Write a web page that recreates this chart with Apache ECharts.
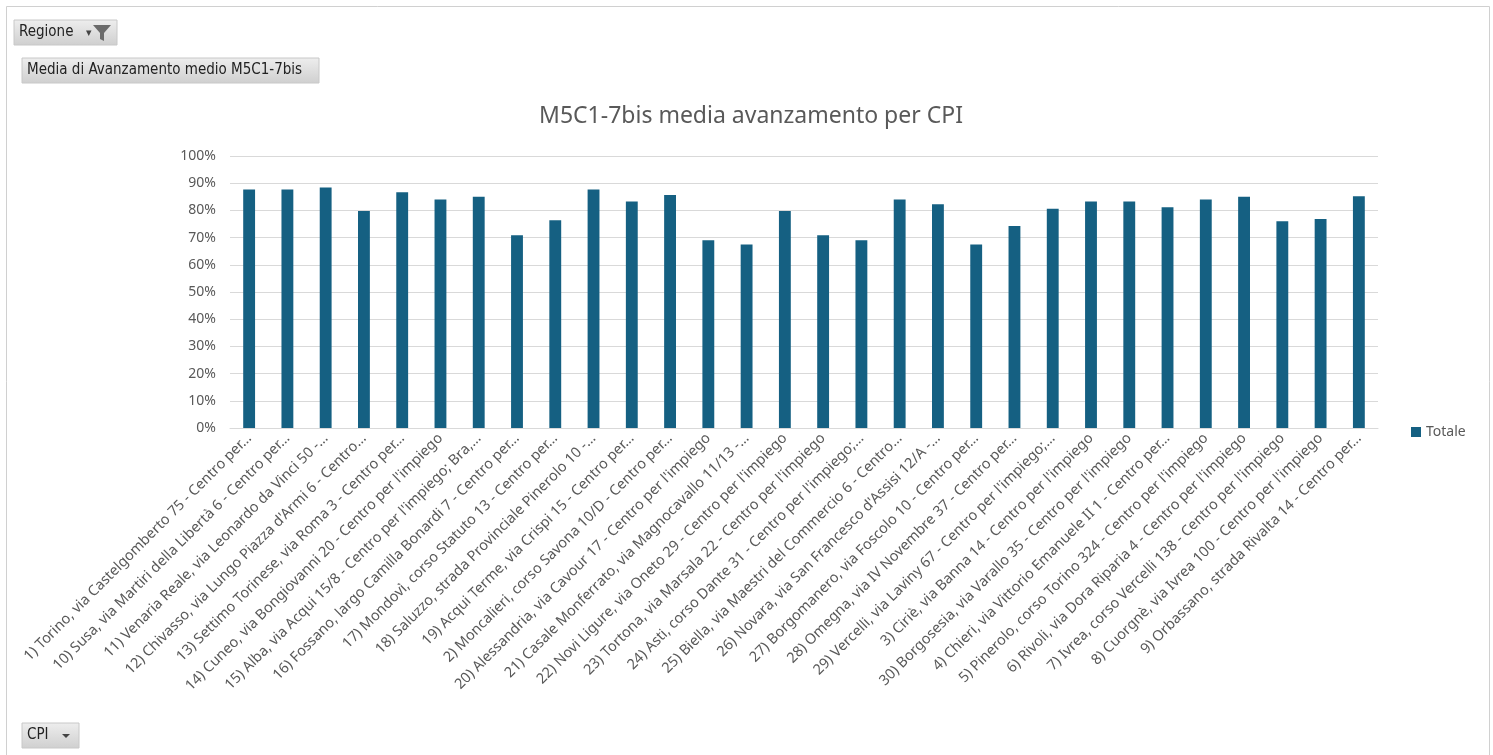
<!DOCTYPE html>
<html>
<head>
<meta charset="utf-8">
<script src="https://cdn.jsdelivr.net/npm/echarts@6/dist/echarts.min.js"></script>
<style>
html,body{margin:0;padding:0;background:#fff;}
#chart{width:1493px;height:755px;}
</style>
</head>
<body>
<div id="chart"></div>
<script>
const categories = [
  "1) Torino, via Castelgomberto 75 - Centro per…",
  "10) Susa, via Martiri della Libertà 6 - Centro per…",
  "11) Venaria Reale, via Leonardo da Vinci 50 -…",
  "12) Chivasso, via Lungo Piazza d'Armi 6 - Centro…",
  "13) Settimo Torinese, via Roma 3 - Centro per…",
  "14) Cuneo, via Bongiovanni 20 - Centro per l'impiego",
  "15) Alba, via Acqui 15/8 - Centro per l'impiego; Bra,…",
  "16) Fossano, largo Camilla Bonardi 7 - Centro per…",
  "17) Mondovì, corso Statuto 13 - Centro per…",
  "18) Saluzzo, strada Provinciale Pinerolo 10 -…",
  "19) Acqui Terme, via Crispi 15 - Centro per…",
  "2) Moncalieri, corso Savona 10/D - Centro per…",
  "20) Alessandria, via Cavour 17 - Centro per l'impiego",
  "21) Casale Monferrato, via Magnocavallo 11/13 -…",
  "22) Novi Ligure, via Oneto 29 - Centro per l'impiego",
  "23) Tortona, via Marsala 22 - Centro per l'impiego",
  "24) Asti, corso Dante 31 - Centro per l'impiego;…",
  "25) Biella, via Maestri del Commercio 6 - Centro…",
  "26) Novara, via San Francesco d'Assisi 12/A -…",
  "27) Borgomanero, via Foscolo 10 - Centro per…",
  "28) Omegna, via IV Novembre 37 - Centro per…",
  "29) Vercelli, via Laviny 67 - Centro per l'impiego;…",
  "3) Ciriè, via Banna 14 - Centro per l'impiego",
  "30) Borgosesia, via Varallo 35 - Centro per l'impiego",
  "4) Chieri, via Vittorio Emanuele II 1 - Centro per…",
  "5) Pinerolo, corso Torino 324 - Centro per l'impiego",
  "6) Rivoli, via Dora Riparia 4 - Centro per l'impiego",
  "7) Ivrea, corso Vercelli 138 - Centro per l'impiego",
  "8) Cuorgnè, via Ivrea 100 - Centro per l'impiego",
  "9) Orbassano, strada Rivalta 14 - Centro per…"
];
const totale = [
  0.877, 0.877, 0.884, 0.798, 0.867, 0.840, 0.850, 0.709, 0.764, 0.877,
  0.833, 0.857, 0.690, 0.675, 0.798, 0.709, 0.690, 0.840, 0.823, 0.675,
  0.743, 0.806, 0.833, 0.833, 0.812, 0.840, 0.850, 0.760, 0.768, 0.852
];
const yTicks = {min: 0, max: 1, interval: 0.1};
const seriesName = "Totale";
const chartTitle = "M5C1-7bis media avanzamento per CPI";

const font = "'Noto Sans', 'Liberation Sans', sans-serif";
const chart = echarts.init(document.getElementById('chart'));

function button(x, y, w, h, text, extra) {
  const els = [{
    type: 'rect',
    shape: {x: x, y: y, width: w, height: h},
    style: {
      fill: new echarts.graphic.LinearGradient(0, 0, 0, 1, [
        {offset: 0, color: '#eeeeee'}, {offset: 1, color: '#cfcfcf'}
      ]),
      stroke: '#c8c8c8', lineWidth: 1
    },
    silent: true
  }, {
    type: 'text', x: x + 5, y: y + h / 2,
    style: {text: text, fill: '#222', font: "15px 'DejaVu Sans Condensed', 'Liberation Sans', sans-serif", verticalAlign: 'middle'},
    silent: true
  }];
  return els.concat(extra || []);
}

chart.setOption({
  animation: false,
  backgroundColor: '#ffffff',
  title: {
    text: chartTitle,
    left: 746, top: 100, textAlign: 'center',
    textStyle: {color: '#595959', fontSize: 23, fontWeight: 'normal', fontFamily: font}
  },
  legend: {
    data: [seriesName],
    left: 1406, top: 420, orient: 'vertical',
    icon: 'rect', itemWidth: 10, itemHeight: 10, itemGap: 5,
    textStyle: {color: '#595959', fontSize: 14, fontFamily: font}
  },
  grid: {left: 230, right: 115, top: 156, bottom: 327, containLabel: false},
  xAxis: {
    type: 'category',
    data: categories,
    axisLine: {show: true, lineStyle: {color: '#d9d9d9', width: 1}},
    axisTick: {show: false},
    axisLabel: {
      interval: 0, rotate: 45, color: '#595959', fontSize: 14.5, fontFamily: font, margin: 8
    }
  },
  yAxis: {
    type: 'value',
    min: yTicks.min, max: yTicks.max, interval: yTicks.interval,
    axisLine: {show: false},
    axisTick: {show: false},
    splitLine: {lineStyle: {color: '#d9d9d9', width: 1}},
    axisLabel: {
      color: '#595959', fontSize: 14, fontFamily: font, margin: 14,
      formatter: v => Math.round(v * 100) + '%'
    }
  },
  series: [{
    name: seriesName,
    type: 'bar',
    data: totale,
    barWidth: '31%',
    itemStyle: {color: '#156082'}
  }],
  graphic: [
    {type: 'rect', shape: {x: 6.5, y: 6.5, width: 1483, height: 770}, style: {fill: 'none', stroke: '#d0d0d0', lineWidth: 1}, silent: true},
    ...button(14, 20, 103, 25, 'Regione', [
      {type: 'text', x: 86, y: 33, style: {text: '▾', fill: '#444', font: '11px sans-serif', verticalAlign: 'middle'}, silent: true},
      {type: 'polygon', shape: {points: [[93, 25], [111, 25], [104, 33], [104, 41], [100, 39], [100, 33]]}, style: {fill: '#6b6b6b'}, silent: true}
    ]),
    ...button(22, 58, 297, 25, 'Media di Avanzamento medio M5C1-7bis'),
    ...button(22, 723, 57, 25, 'CPI', [
      {type: 'polygon', shape: {points: [[62, 734], [70, 734], [66, 738]]}, style: {fill: '#444'}, silent: true}
    ])
  ]
});
</script>
</body>
</html>
